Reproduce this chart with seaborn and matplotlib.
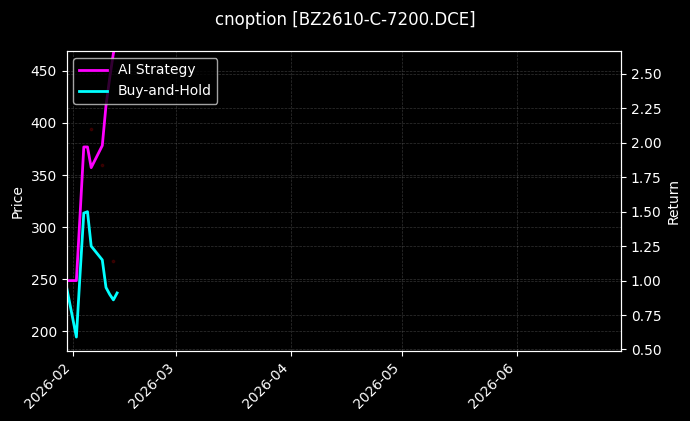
import pandas as pd
import matplotlib.pyplot as plt
import matplotlib.dates as mdates
from matplotlib.ticker import MultipleLocator
import seaborn as sns

# daily values
dates = pd.to_datetime(['2026-01-30', '2026-02-02', '2026-02-03', '2026-02-04', '2026-02-05',
                        '2026-02-06', '2026-02-09', '2026-02-10', '2026-02-11', '2026-02-12',
                        '2026-02-13'])
ai_return = [1.00, 1.00, 1.48, 1.97, 1.97, 1.82, 1.98, 2.27, 2.47, 2.65, 2.75]
bh_return = [1.00, 0.59, 1.05, 1.49, 1.50, 1.25, 1.15, 0.95, 0.90, 0.86, 0.91]

# faint price marks on the left axis
price_dates = pd.to_datetime(['2026-02-06', '2026-02-09', '2026-02-12'])
price_vals = [394, 360, 267]

plt.style.use('dark_background')

df = pd.DataFrame({'Date': dates, 'AI Strategy': ai_return, 'Buy-and-Hold': bh_return})

fig, ax = plt.subplots(figsize=(6.9, 4.21), dpi=100)
fig.subplots_adjust(left=0.0964, right=0.9, top=0.879, bottom=0.166)

ax.scatter(price_dates, price_vals, s=3, color='#8b0000', alpha=0.3, zorder=1)
ax.set_ylim(180.8, 469.2)
ax.yaxis.set_major_locator(MultipleLocator(50))
ax.set_ylabel('Price')
ax.grid(True, linestyle='--', linewidth=0.5, alpha=0.2)

ax2 = ax.twinx()
sns.lineplot(data=df, x='Date', y='AI Strategy', color='#ff00ff', linewidth=2,
             label='AI Strategy', ax=ax2)
sns.lineplot(data=df, x='Date', y='Buy-and-Hold', color='#00ffff', linewidth=2,
             label='Buy-and-Hold', ax=ax2)
ax2.set_ylim(0.488, 2.667)
ax2.yaxis.set_major_locator(MultipleLocator(0.25))
ax2.yaxis.set_major_formatter(plt.FormatStrFormatter('%.2f'))
ax2.set_ylabel('Return')
ax2.grid(True, linestyle='--', linewidth=0.5, alpha=0.2)
ax2.legend(loc='upper left')

ax.set_xlim(pd.Timestamp('2026-01-30 08:00'), pd.Timestamp('2026-06-29 04:00'))
ax.xaxis.set_major_locator(mdates.MonthLocator())
ax.xaxis.set_major_formatter(mdates.DateFormatter('%Y-%m'))
ax2.set_xlabel('')
ax.set_xlabel('')
plt.setp(ax.get_xticklabels(), rotation=45, ha='right')

fig.suptitle('cnoption [BZ2610-C-7200.DCE]', fontsize=12, y=0.975)

fig.savefig('out.png', dpi=100)
